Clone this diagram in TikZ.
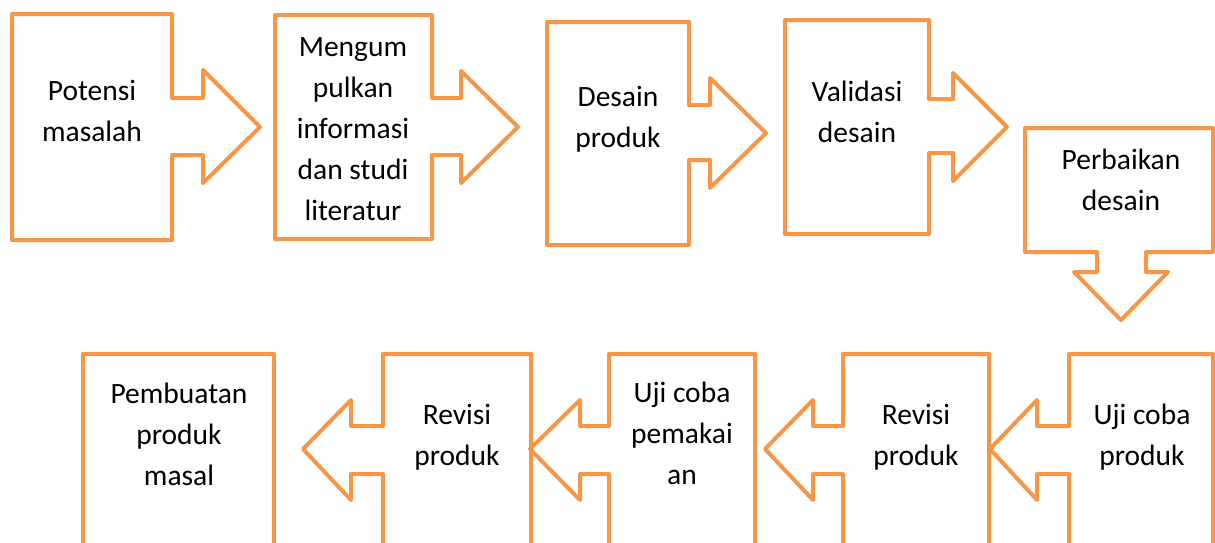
\documentclass[tikz,border=0pt]{standalone}
\usepackage{fontspec}
\setmainfont{Carlito}
\definecolor{stageorange}{HTML}{F79646}
\tikzset{every path/.style={stageorange, line width=4pt, line join=round},
  every node/.style={text=black, align=center, anchor=base, inner sep=0pt, font=\fontsize{29.5}{41}\selectfont}}

\begin{document}
\begin{tikzpicture}[x=1pt, y=-1pt]
  \useasboundingbox (0,0) rectangle (1215,542);

  \node (potensi)    at ( 92,141) {Potensi\\masalah};
  \node (informasi)  at (353,220) {Mengum\\pulkan\\informasi\\dan studi\\literatur};
  \node (desain)     at (618,147) {Desain\\produk};
  \node (validasi)   at (857,142) {Validasi\\desain};
  \node (perbaikan)  at (1121,210) {Perbaikan\\desain};
  \node (ujiproduk)  at (1142,465) {Uji coba\\produk};
  \node (revisia)    at (916,465) {Revisi\\produk};
  \node (ujipakai)   at (682,484) {Uji coba\\pemakai\\an};
  \node (revisib)    at (457,465) {Revisi\\produk};
  \node (masal)      at (179,485) {Pembuatan\\produk\\masal};

  \draw (12,14) -- (172,14) -- (172,98) -- (203,98) -- (203,70) -- (260,127)
     -- (203,183) -- (203,155) -- (172,155) -- (172,240) -- (12,240) -- cycle;
  \draw (275,15) -- (432,15) -- (432,98) -- (461,98) -- (461,71) -- (518,127)
     -- (461,183) -- (461,155) -- (432,155) -- (432,239) -- (275,239) -- cycle;
  \draw (547,22) -- (689,22) -- (689,105) -- (710,105) -- (710,78) -- (766,133)
     -- (710,188) -- (710,160) -- (689,160) -- (689,245) -- (547,245) -- cycle;
  \draw (785,20) -- (929,20) -- (929,99) -- (953,99) -- (953,73) -- (1007,127)
     -- (953,181) -- (953,153) -- (929,153) -- (929,234) -- (785,234) -- cycle;
  \draw (1025,128) -- (1213,128) -- (1213,252) -- (1146,252) -- (1146,272) -- (1168,272)
     -- (1121,320) -- (1074,272) -- (1097,272) -- (1097,252) -- (1025,252) -- cycle;

  \draw (1213,354) -- (1069,354) -- (1069,426) -- (1037,426) -- (1037,400) -- (990,449)
     -- (1037,500) -- (1037,474) -- (1069,474) -- (1069,560) -- (1213,560) -- cycle;
  \draw (989,354) -- (843,354) -- (843,426) -- (813,426) -- (813,400) -- (765,449)
     -- (813,500) -- (813,474) -- (843,474) -- (843,560) -- (989,560) -- cycle;
  \draw (755,354) -- (609,354) -- (609,426) -- (580,426) -- (580,400) -- (530,449)
     -- (580,500) -- (580,474) -- (609,474) -- (609,560) -- (755,560) -- cycle;
  \draw (531,354) -- (383,354) -- (383,426) -- (351,426) -- (351,400) -- (303,449)
     -- (351,500) -- (351,474) -- (383,474) -- (383,560) -- (531,560) -- cycle;
  \draw (83,354) -- (274,354) -- (274,560) -- (83,560) -- cycle;
\end{tikzpicture}
\end{document}
